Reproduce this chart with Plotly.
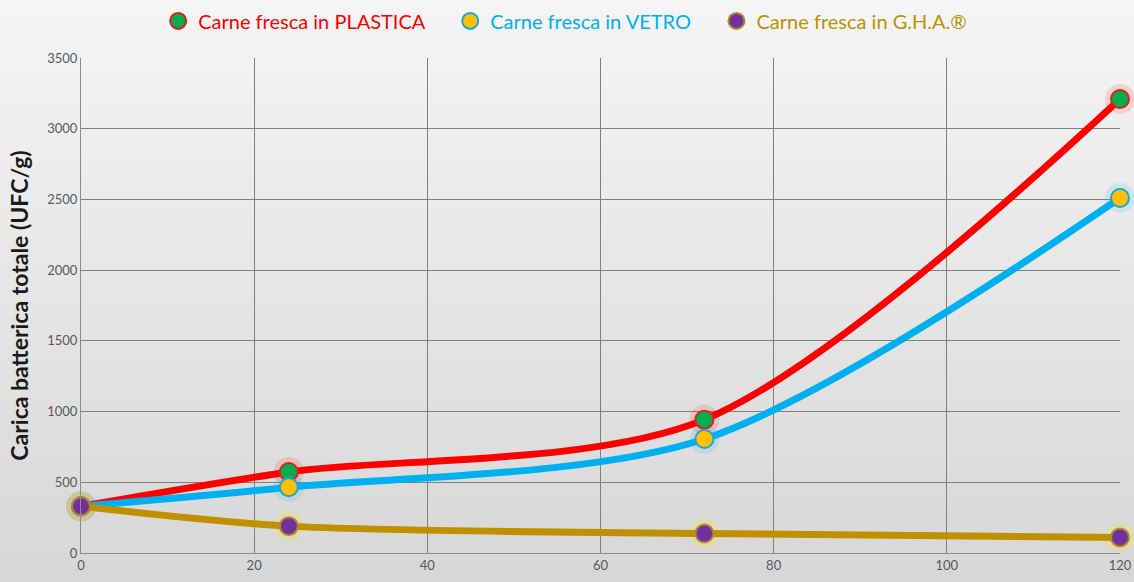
import plotly.graph_objects as go

hours = [0, 24, 72, 120]
plastica = [330, 573, 943, 3210]
vetro = [330, 465, 806, 2510]
gha = [330, 190, 138, 110]

x_ticks = [0, 20, 40, 60, 80, 100, 120]
y_ticks = [0, 500, 1000, 1500, 2000, 2500, 3000, 3500]

series = [
    ("Carne fresca in PLASTICA", plastica, "#ff0000", "#00b050", "#e0201a", "rgba(255,0,0,0.13)"),
    ("Carne fresca in VETRO", vetro, "#00b0f0", "#ffc000", "#1aa7d8", "rgba(0,176,240,0.13)"),
    ("Carne fresca in G.H.A.®", gha, "#bf9000", "#7030a0", "#b08a2a", "rgba(255,230,0,0.2)"),
]

fig = go.Figure()

# gradient background strips (paper coordinates)
n = 70
top, bottom = 1.125, -0.065
shapes = []
for i in range(n):
    t = i / (n - 1)
    g = int(round(245 - (245 - 215) * t))
    y1 = top - i * (top - bottom) / n
    y0 = top - (i + 1) * (top - bottom) / n
    shapes.append(dict(type="rect", xref="paper", yref="paper", layer="below",
                       x0=-0.1, x1=1.03, y0=y0 - 0.001, y1=y1 + 0.001,
                       fillcolor=f"rgb({g},{g},{g})", line=dict(width=0)))

for name, vals, lc, mfill, mline, glow in series:
    fig.add_trace(go.Scatter(x=hours, y=vals, mode="markers", showlegend=False,
                             marker=dict(size=30, color=glow, line=dict(width=0)),
                             hoverinfo="skip", cliponaxis=False))

for name, vals, lc, mfill, mline, glow in series:
    fig.add_trace(go.Scatter(x=hours, y=vals, mode="lines+markers", showlegend=False,
                             line=dict(color=lc, width=7, shape="spline", smoothing=0.85),
                             marker=dict(size=18, color=mfill, line=dict(color=mline, width=2)),
                             cliponaxis=False, name=name))

for i, (name, vals, lc, mfill, mline, glow) in enumerate(series):
    pad = "&nbsp;" * 4 if i < len(series) - 1 else ""
    fig.add_trace(go.Scatter(x=[None], y=[None], mode="markers",
                             name=f"<span style='color:{lc}'>{name}</span>{pad}",
                             marker=dict(size=16, color=mfill, line=dict(color=mline, width=2))))

fig.update_layout(
    width=1134, height=582,
    margin=dict(l=81, r=14, t=58, b=29, autoexpand=False),
    paper_bgcolor="#e6e6e6", plot_bgcolor="rgba(0,0,0,0)",
    shapes=shapes,
    font=dict(family="Lato, Open Sans, sans-serif", color="#595959", size=13),
    legend=dict(orientation="h", x=0.466, xanchor="center", y=1.075, yanchor="middle",
                font=dict(size=20), bgcolor="rgba(0,0,0,0)", itemwidth=30),
    showlegend=True,
)
fig.update_xaxes(range=[0, 120], tickvals=x_ticks, showgrid=True, gridcolor="#7f7f7f", gridwidth=1,
                 showline=True, linecolor="#8c8c8c", linewidth=1, zeroline=False,
                 ticks="", ticklen=0, tickfont=dict(size=13, color="#595959"), fixedrange=True)
fig.update_yaxes(range=[0, 3500], tickvals=y_ticks, showgrid=True, gridcolor="#7f7f7f", gridwidth=1,
                 showline=True, linecolor="#8c8c8c", linewidth=1, zeroline=False,
                 ticks="", tickfont=dict(size=13, color="#595959"),
                 title=dict(text="<b>Carica batterica totale (UFC/g)</b>",
                            font=dict(size=23, color="#1a1a1a"), standoff=12))

fig.write_html("out.html", post_script="document.body.style.margin='0';",
               config={"displayModeBar": False})
